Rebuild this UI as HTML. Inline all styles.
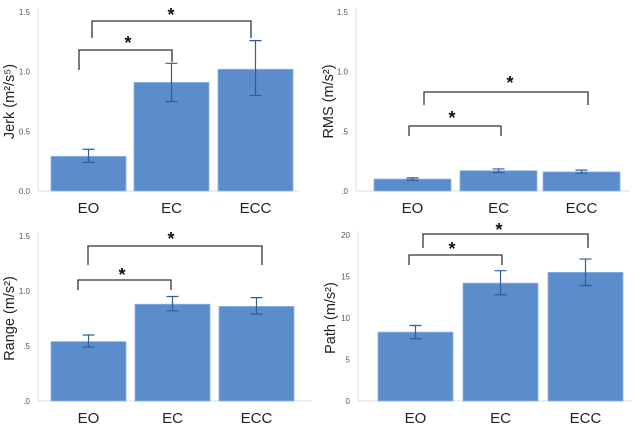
<!DOCTYPE html>
<html><head><meta charset="utf-8"><style>
html,body{margin:0;padding:0;background:#fff;}
svg{display:block;font-family:"Liberation Sans",sans-serif;}
</style></head><body>
<svg id="c" width="641" height="426" viewBox="0 0 641 426"></svg>
<script>
const categories = ["EO","EC","ECC"];
const jerkValues = [0.29, 0.91, 1.02];
const jerkLow = [0.24, 0.75, 0.80];
const jerkHigh = [0.35, 1.07, 1.26];
const jerkTicks = ["0.0","0.5","1.0","1.5"];
const rmsValues = [0.10, 0.17, 0.16];
const rmsLow = [0.09, 0.155, 0.15];
const rmsHigh = [0.11, 0.185, 0.175];
const rmsTicks = [".0",".5","1.0","1.5"];
const rangeValues = [0.54, 0.88, 0.86];
const rangeLow = [0.49, 0.82, 0.79];
const rangeHigh = [0.60, 0.95, 0.94];
const rangeTicks = [".0",".5","1.0","1.5"];
const pathValues = [8.3, 14.2, 15.5];
const pathLow = [7.5, 12.8, 13.9];
const pathHigh = [9.1, 15.7, 17.1];
const pathTicks = ["0","5","10","15","20"];

const NS="http://www.w3.org/2000/svg";
const svg=document.getElementById('c');
function mk(tag,attrs,parent,text){const e=document.createElementNS(NS,tag);for(const k in attrs)e.setAttribute(k,attrs[k]);if(text!==undefined)e.textContent=text;(parent||svg).appendChild(e);return e;}

const panels=[
 {name:'jerk',vals:jerkValues,lo:jerkLow,hi:jerkHigh,ticks:jerkTicks,tickVals:[0,0.5,1,1.5],max:1.5,y0:191,y1:12,ax:38,bars:[51,134,218],bw:75,right:300,label:'Jerk (m²/s⁵)',labX:10,
  br:[{l:79,r:172,yt:50,yl:70,yr:62,sx:128,sy:41},{l:92,r:251,yt:21,yl:38,yr:38,sx:171,sy:13}]},
 {name:'rms',vals:rmsValues,lo:rmsLow,hi:rmsHigh,ticks:rmsTicks,tickVals:[0,0.5,1,1.5],max:1.5,y0:191,y1:12,ax:356,bars:[374,460,543],bw:77,right:630,label:'RMS (m/s²)',labX:329,
  br:[{l:409,r:501,yt:126,yl:136,yr:136,sx:452,sy:116},{l:424,r:588,yt:92,yl:105,yr:105,sx:510,sy:81}]},
 {name:'range',vals:rangeValues,lo:rangeLow,hi:rangeHigh,ticks:rangeTicks,tickVals:[0,0.5,1,1.5],max:1.5,y0:401,y1:236,ax:38,bars:[51,135,219],bw:75,right:312,label:'Range (m/s²)',labX:10,
  br:[{l:78,r:171,yt:280,yl:290,yr:290,sx:122,sy:273},{l:88,r:262,yt:246,yl:265,yr:265,sx:171,sy:237}]},
 {name:'path',vals:pathValues,lo:pathLow,hi:pathHigh,ticks:pathTicks,tickVals:[0,5,10,15,20],max:20,y0:401,y1:235,ax:358,bars:[378,463,548],bw:75,right:632,label:'Path (m/s²)',labX:331,
  br:[{l:409,r:502,yt:255,yl:265,yr:265,sx:452,sy:247},{l:423,r:588,yt:234,yl:248,yr:248,sx:499,sy:228}]}
];

panels.forEach(p=>{
  const g=mk('g',{});
  
  
  const y=v=>p.y0-(v/p.max)*(p.y0-p.y1);
  const ya=mk('line',{x1:p.ax,x2:p.ax,y1:p.y1-4,y2:p.y0,stroke:'#ddd','stroke-width':1},g);
  
  
  const xa=mk('line',{x1:p.ax,x2:p.right,y1:p.y0,y2:p.y0,stroke:'#ddd','stroke-width':1},g);
  
  
  p.tickVals.forEach((tv,i)=>{
    const t=mk('text',{x:p.ax-8,y:y(tv)+3,'text-anchor':'end','font-size':8,fill:'#555'},g,p.ticks[i]);
    
    
  });
  const lab=mk('text',{x:p.labX,y:(p.y0+p.y1)/2,'text-anchor':'middle','font-size':14.5,fill:'#222',transform:`rotate(-90 ${p.labX} ${(p.y0+p.y1)/2})`,'dominant-baseline':'middle'},g,p.label);
  
  
  categories.forEach((c,i)=>{
    const x=p.bars[i],cx=x+p.bw/2;
    const b=mk('rect',{x:x,y:y(p.vals[i]),width:p.bw,height:p.y0-y(p.vals[i]),fill:'#5b8ccb',stroke:'#8fb5e3','stroke-width':0.8},g);
    
    
    const e=mk('path',{d:`M${cx} ${y(p.hi[i])}V${y(p.lo[i])}M${cx-6} ${y(p.hi[i])}H${cx+6}M${cx-6} ${y(p.lo[i])}H${cx+6}`,stroke:'#2f5e9e','stroke-width':1.2,fill:'none'},g);
    
    
    const t=mk('text',{x:cx,y:p.y0+22,'text-anchor':'middle','font-size':15,fill:'#222'},g,c);
    
    
  });
  p.br.forEach(b=>{
    const bp=mk('path',{d:`M${b.l} ${b.yl}V${b.yt}H${b.r}V${b.yr}`,stroke:'#333','stroke-width':1.3,fill:'none'},g);
    
    
    const s=mk('text',{x:b.sx,y:b.sy+8,'text-anchor':'middle','font-size':18,'font-weight':'bold',fill:'#111'},g,'*');
    
    
  });
});
</script>
</body></html>
